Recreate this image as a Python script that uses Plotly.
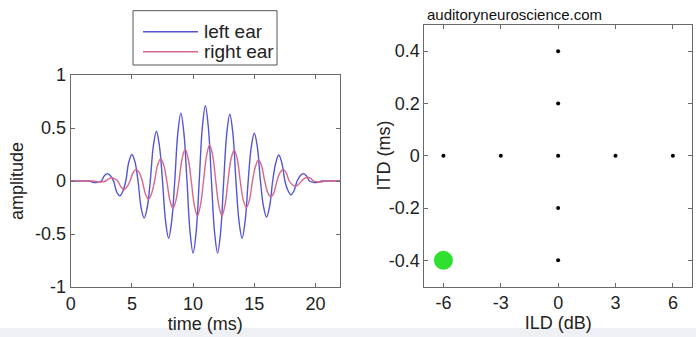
import plotly.graph_objects as go

# ---- data ----
blue_t = [0, 1.0, 1.5, 1.75, 2.0, 2.25, 2.5, 2.75, 3.0, 3.25, 3.5, 3.75, 4.0, 4.25,
          4.5, 4.75, 5.0, 5.25, 5.5, 5.75, 6.0, 6.25, 6.5, 6.75, 7.0, 7.25, 7.5, 7.75,
          8.0, 8.25, 8.5, 8.75, 9.0, 9.25, 9.5, 9.75, 10.0, 10.25, 10.5, 10.75, 11.0,
          11.25, 11.5, 11.75, 12.0, 12.25, 12.5, 12.75, 13.0, 13.25, 13.5, 13.75, 14.0,
          14.25, 14.5, 14.75, 15.0, 15.25, 15.5, 15.75, 16.0, 16.25, 16.5, 16.75, 17.0,
          17.25, 17.5, 17.75, 18.0, 18.25, 18.5, 18.75, 19.0, 19.25, 19.5, 19.75, 20.0,
          20.25, 20.5, 21.0, 22.0]
blue_a = [0, 0, 0, -0.01, -0.015, -0.01, 0, 0.05, 0.07, 0.05, 0, -0.10, -0.14, -0.10,
          0, 0.18, 0.25, 0.18, 0, -0.25, -0.35, -0.25, 0, 0.33, 0.47, 0.33, 0, -0.38,
          -0.54, -0.38, 0, 0.45, 0.64, 0.45, 0, -0.48, -0.68, -0.48, 0, 0.50, 0.71,
          0.50, 0, -0.48, -0.68, -0.48, 0, 0.45, 0.63, 0.45, 0, -0.38, -0.54,
          -0.38, 0, 0.32, 0.45, 0.32, 0, -0.24, -0.34, -0.24, 0, 0.17, 0.245,
          0.17, 0, -0.09, -0.13, -0.09, 0, 0.05, 0.07, 0.05, 0, -0.01, -0.015,
          -0.01, 0, 0, 0]

red_t = [0, 1.0, 1.85, 2.1, 2.35, 2.6, 2.85, 3.1, 3.35, 3.6, 3.85, 4.1, 4.35, 4.6,
         4.85, 5.1, 5.35, 5.6, 5.85, 6.1, 6.35, 6.6, 6.85, 7.1, 7.35, 7.6, 7.85, 8.1,
         8.35, 8.6, 8.85, 9.1, 9.35, 9.6, 9.85, 10.1, 10.35, 10.6, 10.85, 11.1, 11.35,
         11.6, 11.85, 12.1, 12.35, 12.6, 12.85, 13.1, 13.35, 13.6, 13.85, 14.1, 14.35,
         14.6, 14.85, 15.1, 15.35, 15.6, 15.85, 16.1, 16.35, 16.6, 16.85, 17.1, 17.35,
         17.6, 17.85, 18.1, 18.35, 18.6, 18.85, 19.1, 19.35, 19.6, 19.85, 20.1, 20.35,
         20.6, 20.85, 21.3, 22.0]
red_a = [0, 0, 0, -0.007, -0.01, -0.007, 0, 0.02, 0.03, 0.02, 0, -0.055, -0.08, -0.055,
         0, 0.08, 0.11, 0.08, 0, -0.12, -0.17, -0.12, 0, 0.15, 0.21, 0.15, 0, -0.18,
         -0.26, -0.18, 0, 0.21, 0.30, 0.21, 0, -0.23, -0.33, -0.23, 0, 0.24, 0.34,
         0.24, 0, -0.23, -0.33, -0.23, 0, 0.21, 0.29, 0.21, 0, -0.18, -0.25,
         -0.18, 0, 0.14, 0.20, 0.14, 0, -0.11, -0.15, -0.11, 0, 0.08, 0.11,
         0.08, 0, -0.035, -0.05, -0.035, 0, 0.025, 0.035, 0.025, 0, -0.007, -0.01,
         -0.007, 0, 0, 0]

grid_ild = [0, 0, -6, -3, 0, 3, 6, 0, 0]
grid_itd = [0.4, 0.2, 0, 0, 0, 0, 0, -0.2, -0.4]
current_ild = [-6]
current_itd = [-0.4]

time_ticks = [0, 5, 10, 15, 20]
amp_ticks = [-1, -0.5, 0, 0.5, 1]
ild_ticks = [-6, -3, 0, 3, 6]
itd_ticks = [-0.4, -0.2, 0, 0.2, 0.4]

series_names = ["left ear", "right ear"]
series_colors = ["#5454d6", "#d8688a"]


def lab(v):
    return "%g" % v


W, H = 696, 337
FONT = "Arial, Liberation Sans, sans-serif"
AX = "#6a6a6a"
TXT = "#222"
LW = 1.4


def px(x):
    return x / W


def py(y):
    return 1 - y / H


fig = go.Figure()
fig.add_trace(go.Scatter(x=blue_t, y=blue_a, mode="lines", name=series_names[0],
                         line=dict(color=series_colors[0], width=LW, shape="spline", smoothing=1),
                         xaxis="x", yaxis="y", showlegend=False))
fig.add_trace(go.Scatter(x=red_t, y=red_a, mode="lines", name=series_names[1],
                         line=dict(color=series_colors[1], width=LW, shape="spline", smoothing=1),
                         xaxis="x", yaxis="y", showlegend=False))
fig.add_trace(go.Scatter(x=grid_ild, y=grid_itd, mode="markers", showlegend=False,
                         marker=dict(color="black", size=4), xaxis="x2", yaxis="y2"))
fig.add_trace(go.Scatter(x=current_ild, y=current_itd, mode="markers", showlegend=False,
                         marker=dict(color="#2fe02f", size=19), xaxis="x2", yaxis="y2"))

common = dict(showline=True, linecolor=AX, linewidth=1, mirror="ticks", ticks="inside",
              ticklen=4, tickcolor=AX, showgrid=False, zeroline=False, automargin=False,
              tickfont=dict(family=FONT, size=18, color=TXT),
              title_font=dict(family=FONT, size=18, color=TXT))

# legend drawn as a boxed key (layout decoration)
shapes = [
    dict(type="rect", xref="paper", yref="paper", x0=0, x1=1, y0=0, y1=9 / H,
         fillcolor="#eef0f4", line=dict(width=0), layer="below"),
    dict(type="rect", xref="paper", yref="paper", x0=px(133), x1=px(277),
         y0=py(65), y1=py(10.7), fillcolor="white", line=dict(color="#555", width=1)),
]
annotations = [
    dict(text="auditoryneuroscience.com", xref="paper", yref="paper",
         x=px(425), y=py(15), xanchor="left", yanchor="middle",
         showarrow=False, font=dict(family=FONT, size=15, color="#111")),
    dict(text="ITD (ms)", xref="paper", yref="paper", x=px(383), y=py(155.5),
         xanchor="center", yanchor="middle", textangle=-90, showarrow=False,
         font=dict(family=FONT, size=18, color=TXT)),
]
for i, (nm, col) in enumerate(zip(series_names, series_colors)):
    yy = 31.7 + 20 * i
    shapes.append(dict(type="line", xref="paper", yref="paper", x0=px(143), x1=px(198),
                       y0=py(yy), y1=py(yy), line=dict(color=col, width=LW)))
    annotations.append(dict(text=nm, xref="paper", yref="paper", x=px(202), y=py(yy),
                            xanchor="left", yanchor="middle", showarrow=False,
                            font=dict(family=FONT, size=19, color=TXT)))

fig.update_layout(
    width=W, height=H, margin=dict(l=0, r=0, t=0, b=0),
    paper_bgcolor="white", plot_bgcolor="white", showlegend=False,
    xaxis=dict(domain=[px(70.7), px(340)], range=[0, 22], tickvals=time_ticks,
               ticktext=[lab(v) for v in time_ticks], title=dict(text="time (ms)", standoff=4),
               anchor="y", **common),
    yaxis=dict(domain=[py(287), py(75)], range=[-1, 1], tickvals=amp_ticks,
               ticktext=[lab(v) for v in amp_ticks], title=dict(text="amplitude", standoff=6),
               anchor="x", **common),
    xaxis2=dict(domain=[px(424.3), px(692)], range=[-7, 7], tickvals=ild_ticks,
                ticktext=[lab(v) for v in ild_ticks], title=dict(text="ILD (dB)", standoff=4),
                anchor="y2", **common),
    yaxis2=dict(domain=[py(286.5), py(25)], range=[-0.5, 0.5], tickvals=itd_ticks,
                ticktext=[lab(v) for v in itd_ticks], anchor="x2", **common),
    annotations=annotations,
    shapes=shapes,
)

fig.write_html("out.html")
